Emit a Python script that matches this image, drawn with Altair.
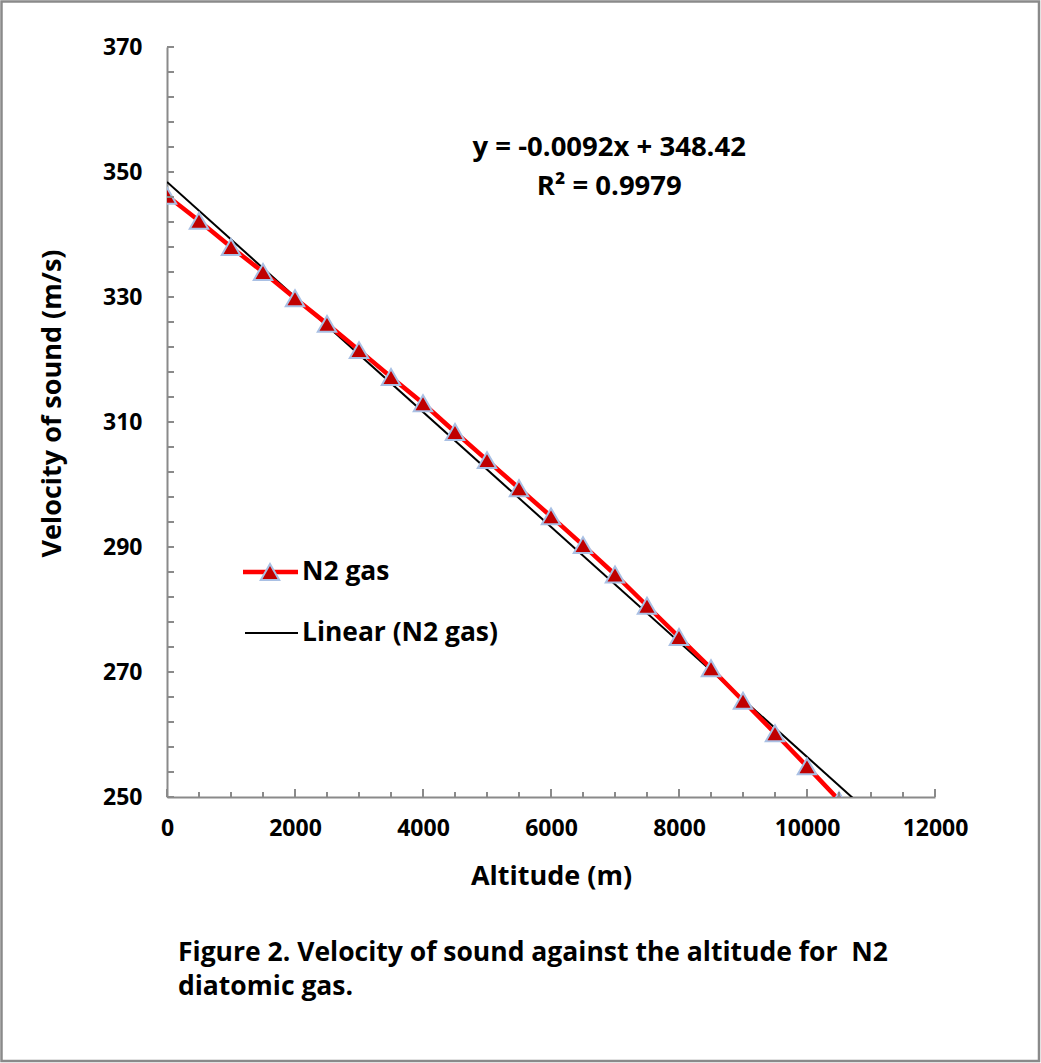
import altair as alt
import pandas as pd

# ---- data ----
altitude = [0, 500, 1000, 1500, 2000, 2500, 3000, 3500, 4000, 4500, 5000,
            5500, 6000, 6500, 7000, 7500, 8000, 8500, 9000, 9500, 10000, 10500]
velocity = [346.2, 342.2, 338.0, 334.0, 329.8, 325.7, 321.5, 317.2, 313.0, 308.4, 303.9,
            299.4, 294.9, 290.3, 285.6, 280.6, 275.6, 270.6, 265.4, 260.2, 254.9, 249.5]
trend_x = [0, 12000]
trend_y = [348.42, 238.02]  # y = -0.0092x + 348.42
x_tick_values = list(range(0, 12001, 2000))
x_minor_ticks = list(range(0, 12001, 500))
y_tick_values = list(range(250, 371, 20))
y_minor_ticks = list(range(250, 371, 4))
eq_lines = ["y = -0.0092x + 348.42", "R² = 0.9979"]
eq_x = [6910, 6910]
eq_y = [353.9, 347.6]
caption = ["Figure 2. Velocity of sound against the altitude for\u00a0 N2", "diatomic gas."]
legend_labels = ["N2 gas", "Linear (N2 gas)"]

FONT = "Open Sans"
W, H = 768, 750
GRAY = "#8a8a8a"

df = pd.DataFrame({"x": altitude, "y": velocity})
tdf = pd.DataFrame({"x": trend_x, "y": trend_y})

xs = alt.Scale(domain=[0, 12000], nice=False, zero=False)
ys = alt.Scale(domain=[250, 370], nice=False, zero=False)

xax = alt.Axis(values=x_tick_values, ticks=False, grid=False, domainColor=GRAY, domainWidth=2,
               labelFont=FONT, labelFontWeight="bold", labelFontSize=23, labelColor="black",
               labelPadding=20, labelFlush=False, title="Altitude (m)", titleFont=FONT, titleFontSize=27,
               titleFontWeight="bold", titleColor="black", titlePadding=23, format="d")
yax = alt.Axis(values=y_tick_values, ticks=False, grid=False, domainColor=GRAY, domainWidth=2,
               labelFont=FONT, labelFontWeight="bold", labelFontSize=23, labelColor="black",
               labelPadding=25, title="Velocity of sound (m/s)", titleFont=FONT, titleFontSize=27,
               titleFontWeight="bold", titleColor="black", titlePadding=36, titleY=356, format="d")

one = pd.DataFrame({"a": [0]})

border = alt.Chart(one).mark_rect(fill=None, stroke=GRAY, strokeWidth=2.5, clip=False).encode(
    x=alt.value(-165.5), x2=alt.value(1039 - 167), y=alt.value(-45.5), y2=alt.value(1061 - 47))

trend = alt.Chart(tdf).mark_line(color="black", strokeWidth=2, clip=True).encode(
    x=alt.X("x:Q", scale=xs, axis=xax), y=alt.Y("y:Q", scale=ys, axis=yax))

line = alt.Chart(df).mark_line(color="#ff0000", strokeWidth=4.5, clip=True).encode(
    x=alt.X("x:Q", scale=xs), y=alt.Y("y:Q", scale=ys))

pts = alt.Chart(df).mark_point(shape="triangle-up", filled=True, fill="#c00000", stroke="#a9c0e4",
                               strokeWidth=2, size=340, opacity=1, clip=True).encode(
    x=alt.X("x:Q", scale=xs), y=alt.Y("y:Q", scale=ys))

ytk = alt.Chart(pd.DataFrame({"v": y_minor_ticks})).mark_rule(color=GRAY, strokeWidth=2).encode(
    y=alt.Y("v:Q", scale=ys), x=alt.value(0), x2=alt.value(7))

xminor = alt.Chart(pd.DataFrame({"v": x_minor_ticks})).mark_rule(color=GRAY, strokeWidth=2).encode(
    x=alt.X("v:Q", scale=xs), y=alt.value(H), y2=alt.value(H - 5))
xmajor = alt.Chart(pd.DataFrame({"v": x_tick_values})).mark_rule(color=GRAY, strokeWidth=2).encode(
    x=alt.X("v:Q", scale=xs), y=alt.value(H), y2=alt.value(H - 8))

eq = alt.Chart(pd.DataFrame({"t": eq_lines, "x": eq_x, "y": eq_y})).mark_text(
    font=FONT, fontSize=27.5, fontWeight="bold", color="black", align="center", baseline="middle").encode(
    x=alt.X("x:Q", scale=xs), y=alt.Y("y:Q", scale=ys), text="t:N")

# legend (manual)
leg_red = alt.Chart(one).mark_rule(color="#ff0000", strokeWidth=4.5).encode(
    x=alt.value(76), x2=alt.value(131), y=alt.value(525))
leg_tri = alt.Chart(one).mark_point(shape="triangle-up", filled=True, fill="#c00000", stroke="#a9c0e4",
                                    strokeWidth=2, size=340, opacity=1).encode(
    x=alt.value(103), y=alt.value(525))
leg_blk = alt.Chart(one).mark_rule(color="black", strokeWidth=2).encode(
    x=alt.value(78), x2=alt.value(131), y=alt.value(586))
leg_txt = alt.Chart(pd.DataFrame({"t": legend_labels, "yy": [525, 586]})).mark_text(
    font=FONT, fontSize=26.4, fontWeight="bold", color="black", align="left", baseline="middle").encode(
    x=alt.value(135), y=alt.Y("yy:Q", scale=None), text="t:N")

cap = alt.Chart(pd.DataFrame({"t": caption, "yy": [906, 940]})).mark_text(
    font=FONT, fontSize=26.5, fontWeight="bold", color="black", align="left", baseline="middle").encode(
    x=alt.value(11), y=alt.Y("yy:Q", scale=None), text="t:N")

chart = alt.layer(border, trend, line, pts, ytk, xminor, xmajor, eq,
                  leg_red, leg_tri, leg_blk, leg_txt, cap).resolve_scale(y="shared").properties(
    width=W, height=H,
    autosize=alt.AutoSizeParams(type="none"),
    padding={"left": 167, "top": 47, "right": 1041 - 167 - W, "bottom": 1063 - 47 - H},
    background="white",
).configure_view(stroke=None)

chart.save("out.html", embed_options={"renderer": "svg", "actions": False})
